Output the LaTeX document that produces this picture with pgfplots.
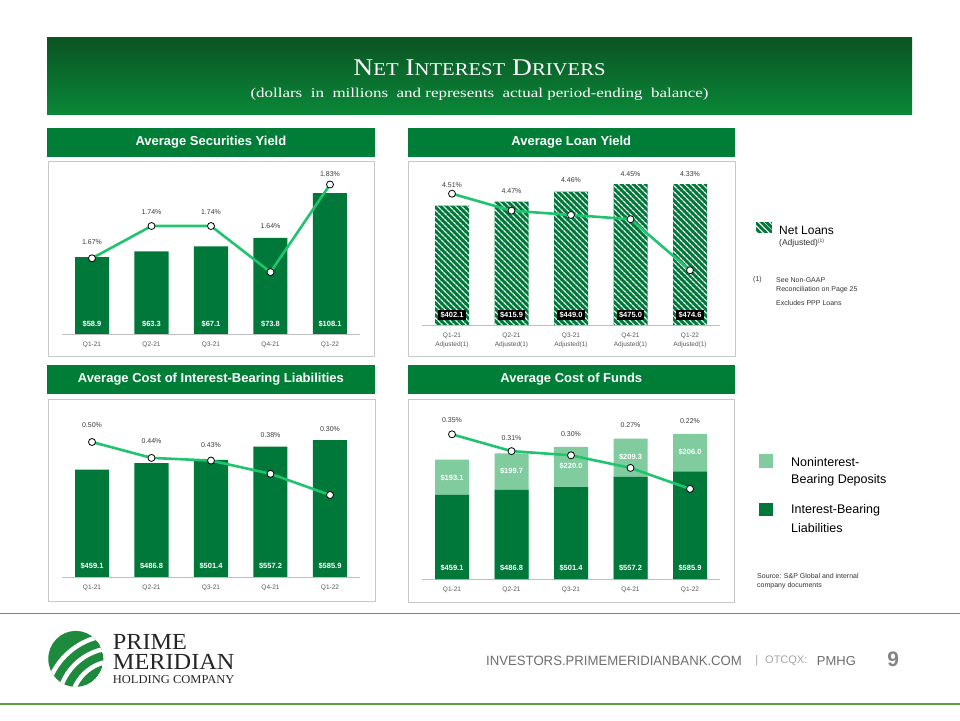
\documentclass[border=0pt]{standalone}
\usepackage{pgfplots}
\pgfplotsset{compat=1.18}
\usepackage{graphicx}
\usepackage{fontspec}
\setmainfont{Liberation Sans}
\newfontfamily\serif{Liberation Serif}
\usetikzlibrary{patterns,patterns.meta}
\definecolor{dg}{HTML}{00783A}
\definecolor{tb}{HTML}{007D36}
\definecolor{lg}{HTML}{80CC9E}
\definecolor{ln}{HTML}{20C46E}
\definecolor{bx}{HTML}{C8C8C8}
\definecolor{axc}{HTML}{BFBFBF}
\definecolor{tk}{HTML}{595959}
\definecolor{pc}{HTML}{3A3A3A}
\definecolor{fl}{HTML}{5F9E3C}
\definecolor{hda}{HTML}{0B5424}
\definecolor{hdb}{HTML}{0A8838}
\definecolor{ftx}{HTML}{6E6E6E}
\definecolor{ftl}{HTML}{A6A6A6}
\definecolor{lgo}{HTML}{1E8A3C}
\newcommand{\fs}[1]{\fontsize{#1}{#1}\selectfont}

\pgfplotsset{
  base/.style={scale only axis, width=297.5pt, xmin=-0.5, xmax=4.5, clip=false, anchor=south west},
  barax/.style={base, axis x line*=bottom, axis y line=none,
    x axis line style={draw=axc, line width=0.8pt, -},
    xtick={0,1,2,3,4}, xtick style={draw=none}, ytick=\empty,
    xticklabel style={font=\fs{6.5}, text=tk, inner sep=0pt, yshift=-8pt}, ymin=0},
  lineax/.style={base, hide axis},
  yl/.style={color=ln, line width=2.6pt, mark=*, mark size=3.5pt,
    mark options={fill=white, draw=black, line width=0.8pt}},
  pl/.style={draw=none, mark=none, nodes near coords={\pgfplotspointmeta\%},
    point meta=explicit symbolic,
    nodes near coords style={font=\fs{7}, text=pc, anchor=center, inner sep=0pt}},
  dl/.style={draw=none, mark=none, nodes near coords={\$\pgfplotspointmeta},
    point meta=explicit symbolic,
    nodes near coords style={font=\bfseries\fs{7.5}, text=white, anchor=center, inner sep=0pt}},
  dlbox/.style={draw=none, mark=none, nodes near coords={\$\pgfplotspointmeta},
    point meta=explicit symbolic,
    nodes near coords style={font=\bfseries\fs{7.5}, text=white, fill=black, anchor=center, inner xsep=2.5pt, inner ysep=2pt}},
}
\tikzset{hatch/.style={fill=dg, postaction={pattern={Lines[angle=-45,distance=4pt,line width=1.3pt]}, pattern color=white}}}

\begin{document}
\begin{tikzpicture}[x=1pt,y=1pt]
\path[use as bounding box] (0,0) rectangle (960,720);
\fill[white] (0,0) rectangle (960,720);

% header
\shade[top color=hda, bottom color=hdb] (47,605) rectangle (912,682);
\node[text=white, font=\serif, inner sep=0] at (479.5,652) {\resizebox{252pt}{\height}{\fs{24}N\fs{18}ET\hspace{6pt}\fs{24}I\fs{18}NTEREST\hspace{6pt}\fs{24}D\fs{18}RIVERS}};
\node[text=white, font=\serif\fs{13.5}, inner sep=0] at (479.5,625.5) {\resizebox{458pt}{\height}{(dollars\ \ in\ \ millions\ \ and represents\ \ actual period-ending\ \ balance)}};

% panel titles
\fill[tb] (47,563.3) rectangle (374.7,592.3);
\node[text=white, font=\bfseries\fs{13}] at (210.9,577.8) {Average Securities Yield};
\fill[tb] (407.7,563.3) rectangle (735,592.3);
\node[text=white, font=\bfseries\fs{13}] at (571.3,577.8) {Average Loan Yield};
\fill[tb] (47,326.3) rectangle (374.7,355.3);
\node[text=white, font=\bfseries\fs{13}] at (210.9,340.8) {Average Cost of Interest-Bearing Liabilities};
\fill[tb] (407.7,326.3) rectangle (735,355.3);
\node[text=white, font=\bfseries\fs{13}] at (571.3,340.8) {Average Cost of Funds};

% panel boxes
\draw[bx, line width=1pt] (48,363) rectangle (374.5,558);
\draw[bx, line width=1pt] (408,363) rectangle (735,558);
\draw[bx, line width=1pt] (48,119) rectangle (375,320.5);
\draw[bx, line width=1pt] (408,118) rectangle (734.5,320.5);

% ---------- chart 1
\begin{axis}[barax, at={(62.25pt,386pt)}, height=164pt, ymax=125.77,
  xticklabels={Q1-21,Q2-21,Q3-21,Q4-21,Q1-22}]
\addplot[ybar, bar width=34pt, fill=dg, draw=none] coordinates {(0,58.9)(1,63.3)(2,67.1)(3,73.8)(4,108.1)};
\addplot[dl] table[meta=l] {
x y l
0 7.46 58.9
1 7.46 63.3
2 7.46 67.1
3 7.46 73.8
4 7.46 108.1
};
\end{axis}
\begin{axis}[lineax, at={(62.25pt,386pt)}, height=164pt, ymin=1.5058, ymax=1.8615]
\addplot[yl] coordinates {(0,1.67)(1,1.74)(2,1.74)(3,1.64)(4,1.83)};
\addplot[pl] table[meta=l] {
x y l
0 1.7047 1.67
1 1.7711 1.74
2 1.7711 1.74
3 1.7401 1.64
4 1.8529 1.83
};
\end{axis}

% ---------- chart 2
\begin{axis}[barax, at={(422.25pt,395pt)}, height=155pt, ymax=522.2,
  xticklabels={{Q1-21\\Adjusted(1)},{Q2-21\\Adjusted(1)},{Q3-21\\Adjusted(1)},{Q4-21\\Adjusted(1)},{Q1-22\\Adjusted(1)}},
  xticklabel style={align=center, font=\fontsize{6.5}{9}\selectfont}]
\addplot[ybar, bar width=34pt, hatch, draw=none] coordinates {(0,402.1)(1,415.9)(2,449.0)(3,475.0)(4,474.6)};
\addplot[dlbox] table[meta=l] {
x y l
0 33.7 402.1
1 33.7 415.9
2 33.7 449.0
3 33.7 475.0
4 33.7 474.6
};
\end{axis}
\begin{axis}[lineax, at={(422.25pt,395pt)}, height=155pt, ymin=4.2011, ymax=4.5658]
\addplot[yl] coordinates {(0,4.51)(1,4.47)(2,4.46)(3,4.45)(4,4.33)};
\addplot[pl] table[meta=l] {
x y l
0 4.5305 4.51
1 4.5156 4.47
2 4.5422 4.46
3 4.5556 4.45
4 4.5556 4.33
};
\end{axis}

% ---------- chart 3
\begin{axis}[barax, at={(62.25pt,143pt)}, height=167pt, ymax=714.3,
  xticklabels={Q1-21,Q2-21,Q3-21,Q4-21,Q1-22}]
\addplot[ybar, bar width=34pt, fill=dg, draw=none] coordinates {(0,459.1)(1,486.8)(2,501.4)(3,557.2)(4,585.9)};
\addplot[dl] table[meta=l] {
x y l
0 48.3 459.1
1 48.3 486.8
2 48.3 501.4
3 48.3 557.2
4 48.3 585.9
};
\end{axis}
\begin{axis}[lineax, at={(62.25pt,143pt)}, height=167pt, ymin=-0.00943, ymax=0.6208]
\addplot[yl] coordinates {(0,0.50)(1,0.44)(2,0.43)(3,0.38)(4,0.30)};
\addplot[pl] table[meta=l] {
x y l
0 0.5653 0.50
1 0.5026 0.44
2 0.4875 0.43
3 0.5275 0.38
4 0.5479 0.30
};
\end{axis}

% ---------- chart 4
\begin{axis}[barax, at={(422.25pt,141pt)}, height=169pt, ymax=923.0,
  xticklabels={Q1-21,Q2-21,Q3-21,Q4-21,Q1-22}]
% light = noninterest-bearing deposits stacked on interest-bearing liabilities (totals)
\addplot[ybar, bar width=34pt, fill=lg, draw=none] coordinates {(0,652.2)(1,686.5)(2,721.4)(3,766.5)(4,791.9)};
\addplot[ybar, bar width=34pt, fill=dg, draw=none] coordinates {(0,459.1)(1,486.8)(2,501.4)(3,557.2)(4,585.9)};
\addplot[dl] table[meta=l] {
x y l
0 61.7 459.1
1 61.7 486.8
2 61.7 501.4
3 61.7 557.2
4 61.7 585.9
};
\addplot[dl] table[meta=l] {
x y l
0 553.2 193.1
1 589.8 199.7
2 617.1 220.0
3 666.3 209.3
4 693.6 206.0
};
\end{axis}
\begin{axis}[lineax, at={(422.25pt,141pt)}, height=169pt, ymin=0.00548, ymax=0.4079]
\addplot[yl] coordinates {(0,0.35)(1,0.31)(2,0.30)(3,0.27)(4,0.22)};
\addplot[pl] table[meta=l] {
x y l
0 0.3840 0.35
1 0.3412 0.31
2 0.3507 0.30
3 0.3729 0.27
4 0.3810 0.22
};
\end{axis}

% legends right
\path[hatch] (755.7,486.7) rectangle (771.7,497.7);
\node[anchor=west, font=\fs{12}, inner sep=0] at (779,490) {Net Loans};
\node[anchor=west, font=\fs{8.5}, text=black!80, inner sep=0] at (779,477.3) {(Adjusted)\raisebox{3pt}{\fs{5}(1)}};
\node[anchor=west, font=\fs{7}, text=black!80, inner sep=0] at (753,440) {(1)};
\node[anchor=west, font=\fs{7}, text=black!80, inner sep=0] at (776,440) {See Non-GAAP};
\node[anchor=west, font=\fs{7}, text=black!80, inner sep=0] at (776,430) {Reconciliation on Page 25};
\node[anchor=west, font=\fs{7}, text=black!80, inner sep=0] at (776,416.7) {Excludes PPP Loans};

\fill[lg] (759,252.3) rectangle (773,265.7);
\node[anchor=west, font=\fs{12.5}, inner sep=0] at (791,258.3) {Noninterest-};
\node[anchor=west, font=\fs{12.5}, inner sep=0] at (791,239.3) {Bearing Deposits};
\fill[dg] (759,204) rectangle (773,217.3);
\node[anchor=west, font=\fs{12.5}, inner sep=0] at (791,210) {Interest-Bearing};
\node[anchor=west, font=\fs{12.5}, inner sep=0] at (791,191.7) {Liabilities};
\node[anchor=west, font=\fs{7}, text=black!80, inner sep=0] at (757,144) {Source: S\&P Global and internal};
\node[anchor=west, font=\fs{7}, text=black!80, inner sep=0] at (757,134.3) {company documents};

% footer
\draw[fl, line width=1.3pt] (0,106.7) -- (960,106.7);
\draw[fl, line width=1.3pt] (0,16) -- (960,16);
\begin{scope}
\clip (75.8,61.1) ellipse (27.5 and 28);
\fill[lgo] (75.8,61.1) ellipse (27.5 and 28);
\foreach \r in {44,57,70} \draw[white, line width=4.5pt] (115,15) circle (\r);
\end{scope}
\node[anchor=base west, inner sep=0, font=\serif, text=black!85] at (112.7,51) {\rlap{\raisebox{20pt}{\resizebox{74pt}{\height}{\fs{23}PRIME}}}\resizebox{121.6pt}{\height}{\fs{23}MERIDIAN}};
\node[anchor=west, inner sep=0, font=\serif\fs{12}, text=black!85] at (112.7,40.3) {\resizebox{121.6pt}{\height}{HOLDING COMPANY}};

\node[anchor=west, text=ftx, font=\fs{13.5}, inner sep=0] at (486,59) {\resizebox{255.7pt}{\height}{INVESTORS.PRIMEMERIDIANBANK.COM}};
\node[text=ftl, font=\fs{11}, inner sep=0] at (756.7,59) {|};
\node[anchor=west, text=ftl, font=\fs{11}, inner sep=0] at (765,59) {OTCQX:};
\node[anchor=west, text=ftx, font=\fs{13}, inner sep=0] at (816.7,59) {PMHG};
\node[text=ftx!85, font=\bfseries\fs{21}, inner sep=0] at (893.3,60.5) {9};
\end{tikzpicture}
\end{document}
